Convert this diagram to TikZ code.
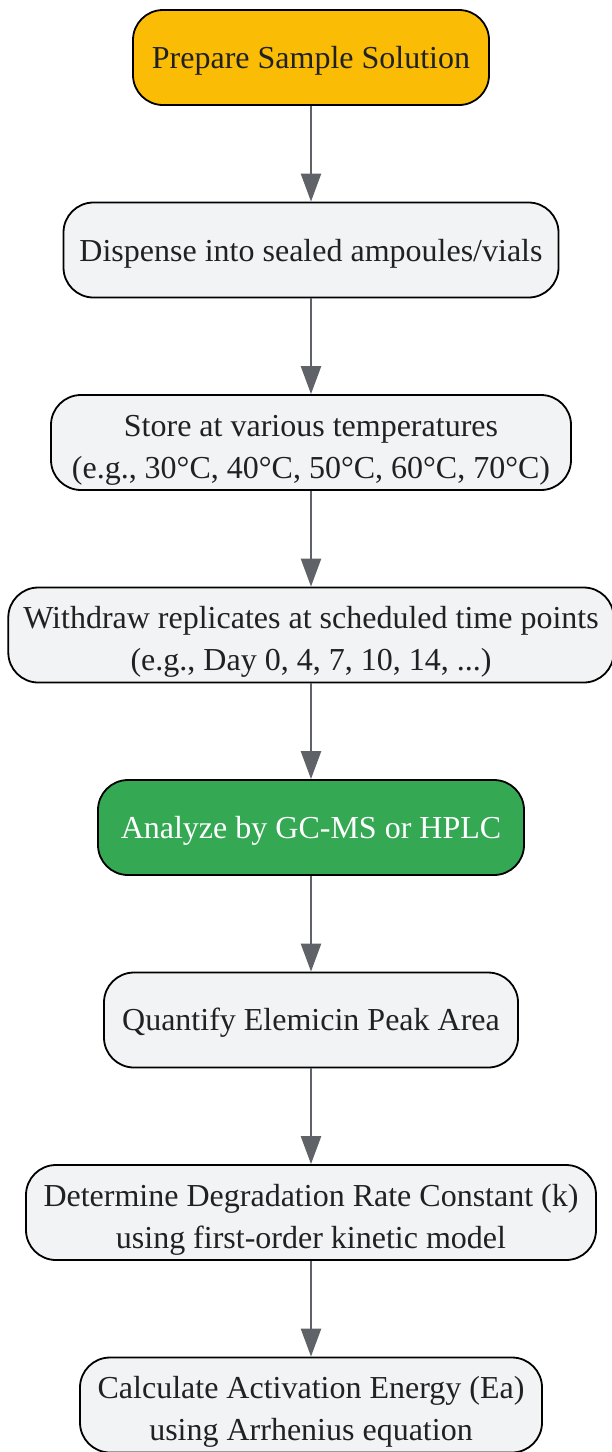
\documentclass[tikz,border=0pt]{standalone}
\usepackage{fontspec}
\setmainfont{Liberation Serif}
\usetikzlibrary{shapes.geometric, arrows.meta, positioning}
\definecolor{startcol}{RGB}{251,188,5}
\definecolor{labcol}{RGB}{52,168,83}
\definecolor{boxcol}{RGB}{241,243,244}
\definecolor{inkcol}{RGB}{32,33,36}
\definecolor{linkcol}{RGB}{95,99,104}
\tikzstyle{stage} = [rectangle, rounded corners=30pt, text centered, align=center, draw=black, line width=1.8pt, fill=boxcol, text=inkcol, minimum height=95pt, inner xsep=15pt, font=\fontsize{32}{42}\selectfont, execute at begin node={\rule{0pt}{0.9em}}]
\tikzstyle{twoline} = [execute at begin node={\rule{0pt}{78pt}}]
\tikzstyle{arrow} = [line width=2.5pt, -{Triangle[length=28pt,width=20pt]}, draw=linkcol, fill=linkcol]

\begin{document}
\begin{tikzpicture}[x=1pt, y=1pt, node distance=192.5pt]
  \useasboundingbox (0,0) rectangle (612,-1452);
  % Draw nodes
  \node (s1)[stage, fill=startcol, minimum width=356pt] at (311,-57.5) {Prepare Sample Solution};
  \node (s2)[stage, below of=s1, minimum width=495pt] {Dispense into sealed ampoules/vials};
  \node (s3)[stage, twoline, below of=s2, minimum width=520pt] {Store at various temperatures\\(e.g., 30°C, 40°C, 50°C, 60°C, 70°C)};
  \node (s4)[stage, twoline, below of=s3, minimum width=602pt] {Withdraw replicates at scheduled time points\\(e.g., Day 0, 4, 7, 10, 14, ...)};
  \node (s5)[stage, below of=s4, fill=labcol, text=white, minimum width=426pt] {Analyze by GC-MS or HPLC};
  \node (s6)[stage, below of=s5, minimum width=414pt] {Quantify Elemicin Peak Area};
  \node (s7)[stage, twoline, below of=s6, minimum width=570pt] {Determine Degradation Rate Constant (k)\\using first-order kinetic model};
  \node (s8)[stage, twoline, below of=s7, minimum width=462pt] {Calculate Activation Energy (Ea)\\using Arrhenius equation};
  % Draw arrows
  \draw [arrow] (s1) -- (s2);
  \draw [arrow] (s2) -- (s3);
  \draw [arrow] (s3) -- (s4);
  \draw [arrow] (s4) -- (s5);
  \draw [arrow] (s5) -- (s6);
  \draw [arrow] (s6) -- (s7);
  \draw [arrow] (s7) -- (s8);
\end{tikzpicture}
\end{document}
